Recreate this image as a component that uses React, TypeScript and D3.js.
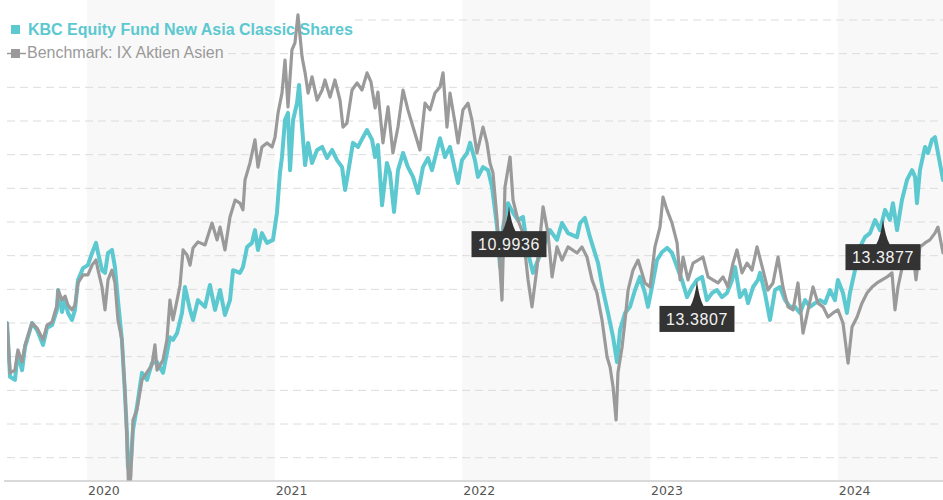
import React from "react";
import * as d3 from "d3";

const W = 943;
const H = 500;

const yearTicks = [2020, 2021, 2022, 2023, 2024];
const shadedYears = [2020, 2022, 2024];
const gridValues = [60, 70, 80, 90, 100, 110, 120, 130, 140, 150, 160, 170, 180, 190];
const fundName = "KBC Equity Fund New Asia Classic Shares";
const benchName = "Benchmark: IX Aktien Asien";

// time as decimal years, values rebased to 100
const fundDates = [
  2019.574, 2019.590, 2019.616, 2019.632, 2019.654, 2019.670, 2019.707, 2019.734, 2019.766, 2019.787,
  2019.814, 2019.840, 2019.846, 2019.867, 2019.883, 2019.899, 2019.920, 2019.936, 2019.952, 2019.979,
  2020.005, 2020.027, 2020.048, 2020.059, 2020.080, 2020.096, 2020.112, 2020.133, 2020.149, 2020.165,
  2020.186, 2020.202, 2020.213, 2020.218, 2020.234, 2020.245, 2020.266, 2020.293, 2020.320, 2020.346,
  2020.373, 2020.405, 2020.426, 2020.442, 2020.458, 2020.480, 2020.506, 2020.522, 2020.549, 2020.565,
  2020.591, 2020.629, 2020.655, 2020.682, 2020.709, 2020.735, 2020.762, 2020.778, 2020.815, 2020.831,
  2020.853, 2020.879, 2020.895, 2020.911, 2020.932, 2020.959, 2020.991, 2021.012, 2021.028, 2021.039,
  2021.055, 2021.071, 2021.082, 2021.098, 2021.119, 2021.130, 2021.146, 2021.162, 2021.178, 2021.199,
  2021.226, 2021.253, 2021.279, 2021.306, 2021.332, 2021.359, 2021.375, 2021.391, 2021.417, 2021.444,
  2021.471, 2021.492, 2021.519, 2021.535, 2021.550, 2021.572, 2021.598, 2021.614, 2021.636, 2021.657,
  2021.684, 2021.710, 2021.737, 2021.764, 2021.790, 2021.817, 2021.838, 2021.865, 2021.881, 2021.907,
  2021.934, 2021.961, 2021.977, 2021.998, 2022.025, 2022.041, 2022.067, 2022.083, 2022.110, 2022.137,
  2022.158, 2022.185, 2022.201, 2022.217, 2022.243, 2022.270, 2022.296, 2022.323, 2022.350, 2022.376,
  2022.403, 2022.430, 2022.467, 2022.504, 2022.531, 2022.563, 2022.611, 2022.627, 2022.653, 2022.680,
  2022.696, 2022.723, 2022.749, 2022.776, 2022.803, 2022.824, 2022.840, 2022.867, 2022.893, 2022.920,
  2022.946, 2022.973, 2022.989, 2023.010, 2023.037, 2023.064, 2023.091, 2023.117, 2023.144, 2023.170,
  2023.197, 2023.224, 2023.250, 2023.277, 2023.303, 2023.330, 2023.357, 2023.383, 2023.410, 2023.437,
  2023.453, 2023.479, 2023.506, 2023.522, 2023.549, 2023.575, 2023.586, 2023.612, 2023.639, 2023.666,
  2023.692, 2023.719, 2023.746, 2023.772, 2023.799, 2023.826, 2023.852, 2023.879, 2023.906, 2023.932,
  2023.959, 2023.985, 2024.001, 2024.028, 2024.049, 2024.065, 2024.092, 2024.119, 2024.145, 2024.172,
  2024.199, 2024.225, 2024.252, 2024.278, 2024.294, 2024.316, 2024.342, 2024.369, 2024.396, 2024.412,
  2024.422, 2024.438, 2024.465, 2024.481, 2024.502, 2024.518, 2024.534, 2024.561,
];
const fundValues = [
  100.0, 84.0, 83.1, 91.1, 86.0, 92.9, 100.0, 97.9, 93.5, 98.5,
  99.4, 103.9, 109.8, 103.3, 106.8, 103.0, 100.9, 103.9, 112.8, 116.3,
  117.2, 120.8, 123.8, 120.8, 115.7, 114.9, 120.8, 121.7, 116.6, 106.8,
  95.0, 79.2, 67.3, 57.2, 58.4, 68.2, 75.1, 85.2, 83.1, 88.1,
  88.4, 85.2, 91.1, 95.8, 95.0, 97.0, 103.0, 110.7, 103.9, 100.9,
  106.8, 104.8, 111.3, 103.9, 109.8, 102.4, 106.8, 115.7, 114.9, 116.6,
  122.6, 123.8, 127.6, 121.7, 126.7, 123.8, 124.7, 132.7, 144.6, 149.3,
  160.3, 162.4, 145.4, 160.3, 165.3, 170.7, 158.2, 146.9, 153.5, 147.5,
  151.4, 152.3, 149.0, 151.4, 148.4, 146.3, 139.5, 144.6, 153.5, 152.3,
  155.2, 157.3, 154.4, 149.3, 152.9, 135.0, 147.5, 144.6, 133.0, 145.4,
  150.5, 146.3, 143.4, 138.6, 146.3, 149.0, 145.4, 151.4, 154.9, 149.3,
  152.3, 145.4, 141.6, 148.4, 150.5, 153.5, 148.4, 143.4, 146.3, 145.4,
  140.4, 128.5, 116.6, 128.5, 135.6, 132.7, 130.6, 131.5, 120.8, 114.9,
  118.7, 122.6, 127.6, 124.7, 129.7, 126.7, 125.5, 129.7, 131.2, 125.5,
  122.6, 117.8, 109.8, 103.0, 95.8, 88.4, 97.9, 103.0, 104.8, 109.8,
  113.7, 108.9, 104.8, 110.7, 118.7, 121.1, 122.3, 120.8, 116.6, 112.8,
  107.7, 110.7, 112.8, 113.7, 106.8, 108.9, 109.8, 107.7, 108.9, 112.8,
  116.6, 107.7, 109.8, 105.9, 110.7, 112.8, 114.9, 108.9, 100.9, 109.8,
  110.7, 106.8, 104.8, 104.8, 103.0, 106.8, 104.8, 105.9, 106.8, 105.9,
  109.8, 106.8, 112.8, 108.9, 103.0, 108.9, 115.7, 122.6, 125.5, 126.7,
  130.6, 127.6, 133.6, 130.6, 135.6, 127.6, 136.5, 142.5, 145.4, 143.4,
  135.6, 145.4, 152.3, 150.5, 154.4, 155.2, 150.5, 142.5,
];

const benchDates = [
  2019.574, 2019.590, 2019.616, 2019.632, 2019.654, 2019.670, 2019.707, 2019.734, 2019.766, 2019.787,
  2019.814, 2019.840, 2019.846, 2019.867, 2019.883, 2019.899, 2019.920, 2019.936, 2019.952, 2019.979,
  2020.005, 2020.027, 2020.048, 2020.059, 2020.080, 2020.096, 2020.112, 2020.133, 2020.149, 2020.165,
  2020.186, 2020.202, 2020.213, 2020.221, 2020.229, 2020.234, 2020.245, 2020.266, 2020.293, 2020.320,
  2020.346, 2020.362, 2020.373, 2020.405, 2020.426, 2020.442, 2020.458, 2020.480, 2020.496, 2020.512,
  2020.533, 2020.549, 2020.565, 2020.591, 2020.629, 2020.666, 2020.693, 2020.709, 2020.735, 2020.762,
  2020.789, 2020.815, 2020.831, 2020.842, 2020.868, 2020.895, 2020.911, 2020.932, 2020.959, 2020.986,
  2021.002, 2021.018, 2021.039, 2021.055, 2021.071, 2021.092, 2021.108, 2021.124, 2021.146, 2021.162,
  2021.178, 2021.199, 2021.226, 2021.253, 2021.268, 2021.295, 2021.321, 2021.348, 2021.364, 2021.385,
  2021.412, 2021.439, 2021.465, 2021.492, 2021.513, 2021.535, 2021.550, 2021.577, 2021.604, 2021.630,
  2021.657, 2021.684, 2021.710, 2021.737, 2021.774, 2021.801, 2021.828, 2021.854, 2021.881, 2021.897,
  2021.918, 2021.934, 2021.961, 2021.977, 2022.003, 2022.030, 2022.051, 2022.078, 2022.110, 2022.131,
  2022.147, 2022.163, 2022.185, 2022.211, 2022.227, 2022.254, 2022.270, 2022.296, 2022.323, 2022.350,
  2022.371, 2022.398, 2022.430, 2022.456, 2022.478, 2022.504, 2022.531, 2022.563, 2022.611, 2022.637,
  2022.664, 2022.691, 2022.717, 2022.744, 2022.771, 2022.787, 2022.803, 2022.819, 2022.829, 2022.851,
  2022.867, 2022.883, 2022.909, 2022.936, 2022.957, 2022.973, 2023.000, 2023.026, 2023.053, 2023.069,
  2023.090, 2023.117, 2023.144, 2023.160, 2023.176, 2023.202, 2023.229, 2023.256, 2023.282, 2023.309,
  2023.335, 2023.362, 2023.389, 2023.415, 2023.442, 2023.463, 2023.490, 2023.517, 2023.543, 2023.570,
  2023.602, 2023.628, 2023.655, 2023.682, 2023.708, 2023.735, 2023.762, 2023.788, 2023.815, 2023.842,
  2023.868, 2023.895, 2023.922, 2023.948, 2023.975, 2024.001, 2024.028, 2024.055, 2024.076, 2024.103,
  2024.129, 2024.156, 2024.183, 2024.209, 2024.236, 2024.263, 2024.289, 2024.305, 2024.321, 2024.348,
  2024.374, 2024.401, 2024.417, 2024.438, 2024.465, 2024.491, 2024.518, 2024.534, 2024.561,
];
const benchValues = [
  100.0, 85.2, 86.0, 92.0, 88.4, 93.5, 100.0, 98.5, 95.0, 99.4,
  100.3, 105.3, 109.8, 106.8, 108.0, 105.3, 103.9, 105.3, 111.9, 114.3,
  114.3, 117.2, 118.7, 115.7, 110.7, 103.9, 112.8, 115.7, 111.9, 100.9,
  95.0, 80.1, 65.3, 51.9, 51.9, 54.9, 71.2, 74.2, 83.1, 85.4,
  87.5, 93.5, 86.0, 89.0, 95.0, 106.8, 100.9, 106.8, 111.3, 121.7,
  120.2, 117.2, 122.3, 124.1, 123.2, 129.7, 124.7, 128.5, 121.7, 131.5,
  136.5, 135.6, 133.6, 142.5, 147.5, 154.4, 146.3, 152.3, 153.5, 152.3,
  155.2, 162.4, 168.3, 178.1, 164.2, 181.1, 183.2, 191.5, 179.0, 174.3,
  168.3, 173.1, 166.2, 169.2, 172.2, 167.1, 172.2, 166.2, 158.2, 159.4,
  169.2, 171.3, 169.2, 174.3, 171.6, 163.9, 168.6, 153.5, 164.2, 150.5,
  158.2, 169.2, 163.3, 158.2, 151.4, 165.3, 163.3, 168.3, 170.1, 174.3,
  158.2, 168.3, 159.4, 153.5, 163.3, 165.3, 160.3, 150.5, 158.2, 153.5,
  147.5, 144.6, 130.6, 106.8, 140.4, 149.3, 136.5, 130.6, 126.7, 112.8,
  104.8, 116.6, 134.5, 126.7, 113.7, 122.6, 118.7, 122.6, 120.8, 122.6,
  119.6, 112.8, 108.9, 100.9, 89.9, 86.9, 81.0, 71.2, 85.2, 92.9,
  100.9, 109.8, 115.7, 118.7, 114.9, 111.9, 110.7, 122.6, 128.5, 137.4,
  133.6, 129.7, 123.8, 112.8, 119.6, 112.8, 117.8, 118.7, 119.6, 113.7,
  112.8, 111.9, 113.7, 110.7, 117.8, 121.7, 114.9, 117.8, 115.7, 122.6,
  115.7, 109.8, 111.9, 119.6, 110.7, 104.8, 103.9, 111.9, 97.0, 103.9,
  110.7, 105.9, 104.8, 101.8, 103.0, 103.9, 100.0, 88.1, 98.8, 101.8,
  105.9, 108.9, 110.7, 111.9, 112.8, 113.7, 114.9, 103.9, 110.7, 117.8,
  118.7, 120.8, 112.8, 122.6, 123.8, 124.7, 126.7, 128.5, 120.8,
];

const markerDates = [2022.2485, 2023.25, 2024.241];
const markerLabels = ["10.9936", "13.3807", "13.3877"];

const FUND_COLOR = "#5cc8d0";
const BENCH_COLOR = "#9a9a9a";

export default function App() {
  const x = d3.scaleLinear().domain([2019.5738, 2024.5608]).range([7, 943]);
  const y = d3.scaleLinear().domain([60, 190]).range([457.7, 20]);
  const axisY = 481;

  const fund = fundDates.map((d, i) => [d, fundValues[i]] as [number, number]);
  const bench = benchDates.map((d, i) => [d, benchValues[i]] as [number, number]);

  const line = d3
    .line<[number, number]>()
    .x((d) => x(d[0]))
    .y((d) => y(d[1]));

  const interp = (t: number) => {
    const i = d3.bisector((d: [number, number]) => d[0]).left(fund, t);
    if (i <= 0) return fund[0][1];
    if (i >= fund.length) return fund[fund.length - 1][1];
    const a = fund[i - 1];
    const b = fund[i];
    const f = (t - a[0]) / (b[0] - a[0]);
    return a[1] + f * (b[1] - a[1]);
  };

  const font = "'Liberation Sans', Arial, sans-serif";
  // gridlines sitting behind the legend rows start after the legend text
  const gridStart = (v: number) => (v === 190 ? 355 : v === 180 ? 228 : 7);

  return (
    <svg
      width={W}
      height={H}
      style={{ position: "absolute", left: 0, top: 0, background: "#fff" }}
    >
      <defs>
        <clipPath id="plot">
          <rect x={7} y={0} width={936} height={axisY - 0.5} />
        </clipPath>
      </defs>
      {shadedYears.map((yr) => (
        <rect
          key={yr}
          x={x(yr)}
          y={0}
          width={Math.min(x(yr + 1), W) - x(yr)}
          height={axisY}
          fill="#f8f8f8"
        />
      ))}
      {gridValues.map((v) => (
        <line
          key={v}
          x1={gridStart(v)}
          x2={W}
          y1={y(v)}
          y2={y(v)}
          stroke="#dcdcdc"
          strokeWidth={1}
          strokeDasharray="8,5"
        />
      ))}
      <line x1={4} x2={W} y1={axisY} y2={axisY} stroke="#d9d9d9" strokeWidth={2} />
      {yearTicks.map((yr) => (
        <text
          key={yr}
          x={x(yr) + 1}
          y={495}
          fontFamily="'DejaVu Sans', Verdana, sans-serif"
          fontSize={12.5}
          fill="#555"
        >
          {yr}
        </text>
      ))}
      <rect x={11} y={25} width={9} height={9} fill={FUND_COLOR} />
      <text x={28} y={35} fontFamily={font} fontSize={16} fontWeight="bold" fill={FUND_COLOR}>
        {fundName}
      </text>
      <line x1={7} x2={26} y1={53.5} y2={53.5} stroke={BENCH_COLOR} strokeWidth={1.5} />
      <rect x={11} y={49} width={9} height={9} fill={BENCH_COLOR} />
      <text x={27} y={58} fontFamily={font} fontSize={16} fill={BENCH_COLOR}>
        {benchName}
      </text>
      <g clipPath="url(#plot)">
        <path
          d={line(fund) || ""}
          fill="none"
          stroke={FUND_COLOR}
          strokeWidth={4}
          strokeLinejoin="round"
          strokeLinecap="round"
        />
        <path
          d={line(bench) || ""}
          fill="none"
          stroke={BENCH_COLOR}
          strokeWidth={3.2}
          strokeLinejoin="round"
          strokeLinecap="round"
        />
      </g>
      {markerDates.map((t, i) => {
        const mx = x(t);
        const tip = y(interp(t)) + 1;
        const top = tip + 25;
        const bw = 75;
        const bh = 26;
        return (
          <g key={i}>
            <path
              d={`M${mx - 7},${top + 1} Q${mx - 2},${top - 8} ${mx},${tip} Q${mx + 2},${top - 8} ${mx + 7},${top + 1} Z`}
              fill="#333"
            />
            <rect x={mx - bw / 2} y={top} width={bw} height={bh} fill="#333" />
            <text
              x={mx}
              y={top + 19}
              textAnchor="middle"
              fontFamily={font}
              fontSize={16}
              letterSpacing={0.6}
              fill="#f2f2f2"
            >
              {markerLabels[i]}
            </text>
          </g>
        );
      })}
    </svg>
  );
}
